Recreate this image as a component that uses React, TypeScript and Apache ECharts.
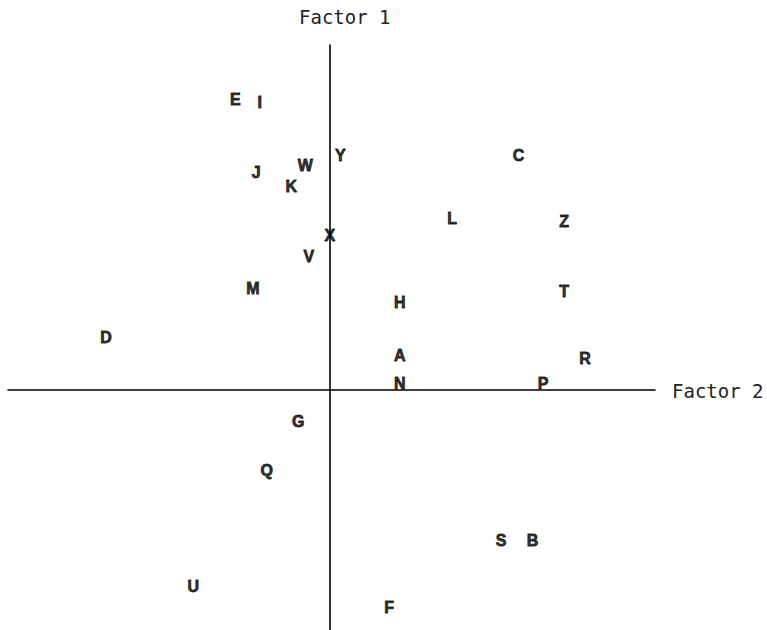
import React, { useEffect, useRef } from "react";
import * as echarts from "echarts";

const labels = ["E", "I", "Y", "W", "J", "K", "C", "L", "Z", "X", "V", "M", "T", "H", "D", "A", "R", "N", "P", "G", "Q", "S", "B", "U", "F"];
const factor2 = [-0.27, -0.2, 0.03, -0.07, -0.21, -0.11, 0.54, 0.35, 0.67, 0.0, -0.06, -0.22, 0.67, 0.2, -0.64, 0.2, 0.73, 0.2, 0.61, -0.09, -0.18, 0.49, 0.58, -0.39, 0.17];
const factor1 = [0.83, 0.82, 0.67, 0.64, 0.62, 0.58, 0.67, 0.49, 0.48, 0.44, 0.38, 0.29, 0.28, 0.25, 0.15, 0.1, 0.09, 0.02, 0.02, -0.09, -0.23, -0.43, -0.43, -0.56, -0.62];
const axisNames = ["Factor 1", "Factor 2"];

export default function App() {
  const ref = useRef<HTMLDivElement>(null);
  useEffect(() => {
    if (!ref.current) return;
    const chart = echarts.init(ref.current, null, { renderer: "svg" });
    const data = labels.map((l, i) => ({ name: l, value: [factor2[i], factor1[i]] }));
    chart.setOption({
      animation: false,
      backgroundColor: "#ffffff",
      grid: { left: 8, right: 112, top: 45, bottom: 0 },
      xAxis: {
        type: "value",
        min: -0.92,
        max: 0.93,
        axisLine: { show: true, onZero: true, lineStyle: { color: "#000", width: 1.6 } },
        axisTick: { show: false },
        axisLabel: { show: false },
        splitLine: { show: false },
      },
      yAxis: {
        type: "value",
        min: -0.685,
        max: 0.985,
        axisLine: { show: true, onZero: true, lineStyle: { color: "#000", width: 1.6 } },
        axisTick: { show: false },
        axisLabel: { show: false },
        splitLine: { show: false },
      },
      graphic: [
        {
          type: "text",
          left: 299,
          top: 7,
          style: { text: axisNames[0], font: "19px 'DejaVu Sans Mono'", fill: "#222" },
        },
        {
          type: "text",
          left: 672,
          top: 381,
          style: { text: axisNames[1], font: "19px 'DejaVu Sans Mono'", fill: "#222" },
        },
      ],
      series: [
        {
          type: "scatter",
          symbolSize: 0,
          data,
          label: {
            show: true,
            position: "inside",
            formatter: "{b}",
            fontFamily: "Liberation Sans",
            fontWeight: "bold",
            fontSize: 16,
            color: "#000",
            textBorderColor: "#000",
            textBorderWidth: 0.8,
          },
        },
      ],
    });
    return () => chart.dispose();
  }, []);
  return <div ref={ref} style={{ position: "fixed", left: 0, top: 0, width: 767, height: 630 }} />;
}
